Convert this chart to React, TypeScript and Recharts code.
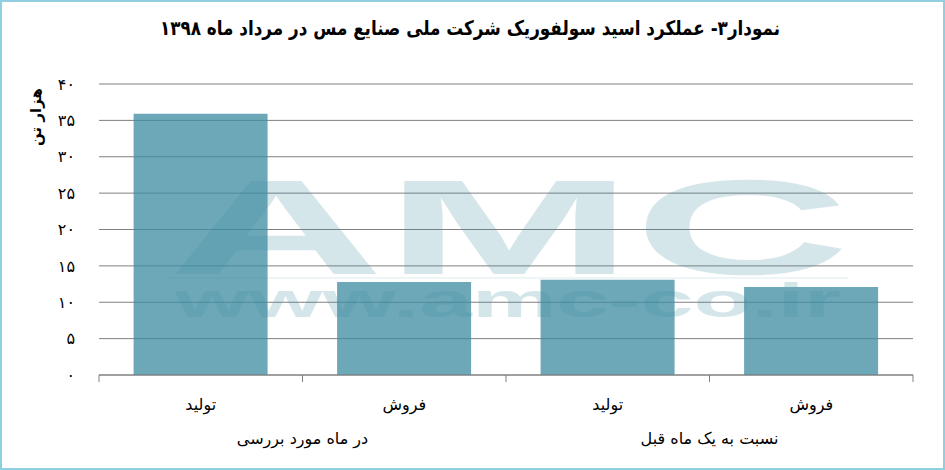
import { Bar, BarChart, CartesianGrid, XAxis, YAxis } from "recharts";

const categories = ["تولید", "فروش", "تولید", "فروش"];
const values = [35.9, 12.8, 13.1, 12.1];
const groupLabels = ["در ماه مورد بررسی", "نسبت به یک ماه قبل"];
const yTicks = [0, 5, 10, 15, 20, 25, 30, 35, 40];
const boundaryTicks = [0, 1, 2, 3, 4];

const FONT = "'DejaVu Sans', sans-serif";
const GRID = "#808080";

// pos is the centre of each category on the numeric helper axis
const data = categories.map((name, i) => ({ name, value: values[i], pos: i + 0.5 }));

function toPersianDigits(value: number | string): string {
  return String(value).replace(/\d/g, (d) => "۰۱۲۳۴۵۶۷۸۹"[Number(d)]);
}

function groupLabelFor(value: number): string {
  if (value === 1) return groupLabels[0];
  if (value === 3) return groupLabels[1];
  return "";
}

export default function App() {
  return (
    <div style={{ position: "absolute", left: 0, top: 0, width: 945, height: 470, background: "#ffffff", fontFamily: FONT }}>
      <div
        style={{
          position: "absolute",
          left: 0,
          top: 16,
          width: 940,
          textAlign: "center",
          fontSize: 20,
          fontWeight: "bold",
          direction: "rtl",
          color: "#000",
          transform: "scaleX(0.84)",
          transformOrigin: "470px 0",
        }}
      >
        نمودار۳- عملکرد اسید سولفوریک شرکت ملی صنایع مس در مرداد ماه ۱۳۹۸
      </div>
      <div style={{ position: "absolute", left: 0, top: 0 }}>
        <BarChart
          width={945}
          height={470}
          data={data}
          margin={{ top: 84, right: 32, bottom: 45, left: 0 }}
          barCategoryGap="17%"
        >
          <CartesianGrid xAxisId="cat" vertical={false} stroke={GRID} strokeWidth={1} />
          <XAxis
            xAxisId="bounds"
            type="number"
            dataKey="pos"
            domain={[0, 4]}
            allowDataOverflow
            ticks={boundaryTicks}
            height={20}
            axisLine={{ stroke: GRID }}
            tickLine={{ stroke: GRID }}
            tickSize={7}
            tickMargin={51}
            interval={0}
            tickFormatter={(v: number) => groupLabelFor(v)}
            tick={{ fill: "#000", fontSize: 16, fontFamily: FONT }}
          />
          <XAxis
            xAxisId="cat"
            dataKey="name"
            height={30}
            axisLine={false}
            tickLine={false}
            tickSize={0}
            tickMargin={4}
            interval={0}
            tick={{ fill: "#000", fontSize: 16, fontFamily: FONT }}
          />
          <YAxis
            domain={[0, 40]}
            ticks={yTicks}
            width={99}
            axisLine={false}
            tickLine={false}
            tickSize={0}
            tickMargin={24}
            tickFormatter={(v: number) => toPersianDigits(v)}
            tick={{ fill: "#000", fontSize: 16, fontFamily: FONT }}
            label={{
              content: () => (
                <text
                  x={36}
                  y={117}
                  transform="rotate(-90 36 117)"
                  textAnchor="middle"
                  dominantBaseline="central"
                  fontSize={15}
                  fontWeight="bold"
                  fontFamily={FONT}
                  fill="#000"
                >
                  هزار تن
                </text>
              ),
            }}
          />
          <Bar xAxisId="cat" dataKey="value" fill="#3f8da2" fillOpacity={0.76} isAnimationActive={false} />
        </BarChart>
      </div>
      <svg
        width={945}
        height={470}
        style={{ position: "absolute", left: 0, top: 0, pointerEvents: "none" }}
      >
        <g fill="#3f8da2" opacity={0.21}>
          <text
            x={168}
            y={274}
            fontSize={135}
            fontWeight="bold"
            fontFamily="'Liberation Sans', Arial, sans-serif"
            textLength={682}
            lengthAdjust="spacingAndGlyphs"
          >
            AMC
          </text>
          <rect x={168} y={277} width={680} height={2} opacity={0.4} />
          <text
            x={175}
            y={317}
            fontSize={48}
            fontWeight="bold"
            fontFamily="'Liberation Sans', Arial, sans-serif"
            textLength={666}
            lengthAdjust="spacingAndGlyphs"
          >
            www.amc-co.ir
          </text>
        </g>
      </svg>
      <div
        style={{
          position: "absolute",
          left: 0,
          top: 0,
          width: 945,
          height: 470,
          boxSizing: "border-box",
          border: "2px solid #8fcfe0",
          pointerEvents: "none",
        }}
      />
    </div>
  );
}
